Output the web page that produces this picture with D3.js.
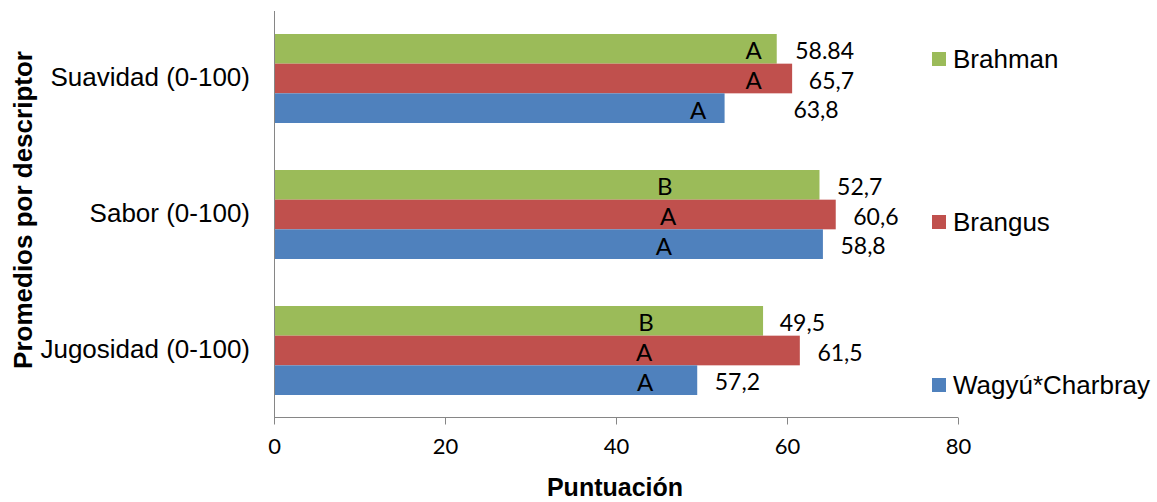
<!DOCTYPE html>
<html><head><meta charset="utf-8">
<script src="https://cdn.jsdelivr.net/npm/d3@7"></script>
<style>
body{margin:0;background:#fff;}
svg{display:block;}
</style></head>
<body>
<svg id="chart" width="1157" height="502"></svg>
<script>
// ---- data ----
const categories = ["Suavidad (0-100)", "Sabor (0-100)", "Jugosidad (0-100)"];
const seriesNames = ["Brahman", "Brangus", "Wagyú*Charbray"];
const brahman = [58.8, 63.8, 57.2];
const brangus = [60.6, 65.7, 61.5];
const wagyu   = [52.7, 64.2, 49.5];
// printed data labels (as shown in the figure)
const brahmanLabels = ["58.84", "52,7", "49,5"];
const brangusLabels = ["65,7", "60,6", "61,5"];
const wagyuLabels   = ["63,8", "58,8", "57,2"];
// significance letters
const brahmanLetters = ["A", "B", "B"];
const brangusLetters = ["A", "A", "A"];
const wagyuLetters   = ["A", "A", "A"];
const xTicks = [0, 20, 40, 60, 80];

// ---- annotation placement (score units, layout only) ----
const brahmanLetterAt = [56.1, 45.7, 43.5];
const brangusLetterAt = [56.1, 46.1, 43.3];
const wagyuLetterAt   = [49.6, 45.6, 43.4];
const brahmanLabelAt = [64.4, 68.5, 61.8];
const brangusLabelAt = [65.2, 70.4, 66.2];
const wagyuLabelAt   = [63.4, 68.9, 54.2];

const colors = ["#9BBB59", "#C0504D", "#4F81BD"];
const values = [brahman, brangus, wagyu];
const labels = [brahmanLabels, brangusLabels, wagyuLabels];
const letters = [brahmanLetters, brangusLetters, wagyuLetters];
const letterPos = [brahmanLetterAt, brangusLetterAt, wagyuLetterAt];
const labelPos = [brahmanLabelAt, brangusLabelAt, wagyuLabelAt];

const svg = d3.select("#chart");
const x = d3.scaleLinear().domain([0, 80]).range([274, 958]);
const p = 0.3456;
const y0 = d3.scaleBand().domain(categories).range([10.5, 418.5]).paddingInner(p).paddingOuter(p / 2);
const y1 = d3.scaleBand().domain(seriesNames).range([0, y0.bandwidth()]);

const calibri = "Lato, 'Open Sans', sans-serif";
const arial = "'Liberation Sans', Arial, sans-serif";

const rows = [];
categories.forEach((c, ci) => seriesNames.forEach((s, si) => rows.push({c, ci, s, si, v: values[si][ci]})));

// bars
svg.append("g").selectAll("rect").data(rows).join("rect")
  .attr("x", x(0))
  .attr("y", d => y0(d.c) + y1(d.s))
  .attr("width", d => x(d.v) - x(0))
  .attr("height", y1.bandwidth())
  .attr("fill", d => colors[d.si]);

// letters
svg.append("g").selectAll("text").data(rows).join("text")
  .attr("x", d => x(letterPos[d.si][d.ci]))
  .attr("y", d => y0(d.c) + y1(d.s) + y1.bandwidth() / 2 + 1)
  .attr("text-anchor", "middle").attr("dominant-baseline", "central")
  .attr("font-family", calibri).attr("font-size", 24).attr("fill", "#000")
  .text(d => letters[d.si][d.ci]);

// value labels
svg.append("g").selectAll("text").data(rows).join("text")
  .attr("x", d => x(labelPos[d.si][d.ci]))
  .attr("y", d => y0(d.c) + y1(d.s) + y1.bandwidth() / 2 + 1)
  .attr("text-anchor", "middle").attr("dominant-baseline", "central")
  .attr("font-family", calibri).attr("font-size", 23).attr("fill", "#000")
  .text(d => labels[d.si][d.ci]);

// x axis
const xAxis = svg.append("g").attr("transform", "translate(0,417.5)")
  .call(d3.axisBottom(x).tickValues(xTicks).tickSize(7).tickPadding(14).tickFormat(d3.format("d")));
xAxis.select(".domain").attr("stroke", "#868686").attr("d", `M${x(0)},0H${x(80)}`);
xAxis.selectAll(".tick line").attr("stroke", "#868686");
xAxis.selectAll(".tick text").attr("font-family", calibri).attr("font-size", 22).attr("fill", "#000");

// y axis line
svg.append("line").attr("x1", x(0) + 0.5).attr("x2", x(0) + 0.5).attr("y1", 11).attr("y2", 418)
  .attr("stroke", "#868686");

// category labels
svg.append("g").selectAll("text").data(categories).join("text")
  .attr("x", 250)
  .attr("y", d => y0(d) + y0.bandwidth() / 2 - 2)
  .attr("text-anchor", "end").attr("dominant-baseline", "central")
  .attr("font-family", arial).attr("font-size", 26).attr("fill", "#000")
  .text(d => d);

// axis titles
svg.append("text").attr("x", 615).attr("y", 496).attr("text-anchor", "middle")
  .attr("font-family", arial).attr("font-weight", "bold").attr("font-size", 25).text("Puntuación");
svg.append("text").attr("transform", "translate(32,210) rotate(-90)").attr("text-anchor", "middle")
  .attr("font-family", arial).attr("font-weight", "bold").attr("font-size", 26).text("Promedios por descriptor");

// legend
const legY = [59, 222, 385];
const leg = svg.append("g").selectAll("g").data(seriesNames).join("g")
  .attr("transform", (d, i) => `translate(932,${legY[i]})`);
leg.append("rect").attr("x", 0).attr("y", -7).attr("width", 14).attr("height", 14).attr("fill", (d, i) => colors[i]);
leg.append("text").attr("x", 21).attr("y", 0).attr("dominant-baseline", "central")
  .attr("font-family", arial).attr("font-size", 26).text(d => d);
</script>
</body></html>
